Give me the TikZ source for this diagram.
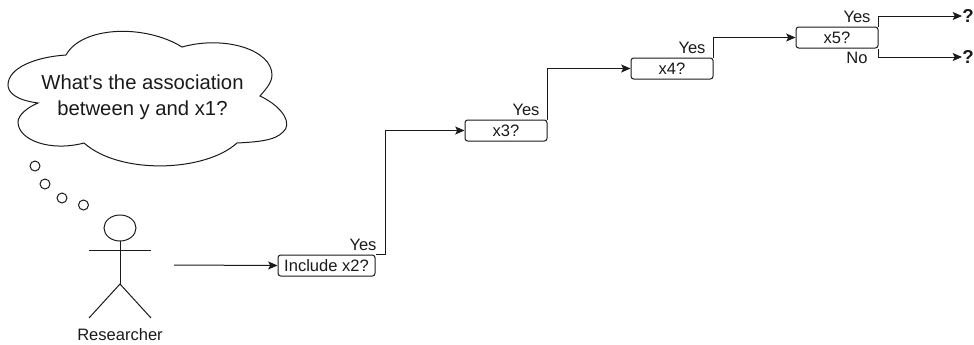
\documentclass[tikz,border=0pt]{standalone}
\usepackage{fontspec}
\newfontfamily\flowfont{Liberation Sans}
\usetikzlibrary{arrows.meta}
\definecolor{flowLine}{HTML}{1A1A1A}
\tikzset{
  flowfig/.style={
    x=0.75pt, y=-0.75pt,
    every node/.append style={font=\flowfont\fontsize{12.4}{14}\selectfont, text=flowLine},
    >={Stealth[length=7pt, width=6pt, inset=1.5pt]},
  },
  askbox/.style={
    draw=flowLine, line width=0.75pt, rounded corners=2pt, fill=white,
    align=center, inner sep=0pt, minimum width=61.5pt, minimum height=15.75pt,
  },
  flow/.style={draw=flowLine, line width=0.75pt, ->},
  figure/.style={draw=flowLine, line width=0.75pt},
  answer/.style={inner sep=0pt},
  endmark/.style={inner sep=0pt, font=\flowfont\bfseries\fontsize{14}{16}\selectfont},
}
\begin{document}
\begin{tikzpicture}[flowfig]
  \useasboundingbox (0,0) rectangle (974,344);
  % thought cloud
  \draw[figure] (66,55) .. controls (82,26) and (145,24) .. (182,47)
    .. controls (225,35) and (272,50) .. (272,75)
    .. controls (272,83) and (265,90) .. (260,96)
    .. controls (285,108) and (292,125) .. (283,132)
    .. controls (275,141) and (255,142) .. (237,143)
    .. controls (205,172) and (120,175) .. (84,143)
    .. controls (50,152) and (18,140) .. (18,122)
    .. controls (18,115) and (28,107) .. (38,103)
    .. controls (15,100) and (8,92) .. (8,85)
    .. controls (8,68) and (35,57) .. (66,55) -- cycle;
  \node[font=\flowfont\fontsize{15.2}{19.5}\selectfont, align=center] (thought) at (142.5,97) {What's the association\\between y and x1?};
  \draw[figure] (35,166) circle (5);
  \draw[figure] (45,184) circle (5);
  \draw[figure] (62,198) circle (5);
  \draw[figure] (83.5,205) circle (5);
  % stick figure
  \draw[figure] (120,228) ellipse (16 and 13);
  \draw[figure] (89,250) -- (151,250);
  \draw[figure] (120,241) -- (120,284);
  \draw[figure] (89,318) -- (120,284) -- (151,318);
  \node (researcher) at (120,335) {Researcher};
  \coordinate (start) at (174,265);
  % questions
  \node[askbox, minimum width=72.75pt] (inctwo) at (326.5,265.5) {Include x2?};
  \node[askbox] (xthree) at (506,130.5) {x3?};
  \node[askbox] (xfour) at (672,68.5) {x4?};
  \node[askbox] (xfive) at (837,37.5) {x5?};
  \node[endmark] (endyes) at (968,16) {?};
  \node[endmark] (endno) at (968,57) {?};
  % connectors
  \draw[flow] (start) -- (inctwo.west);
  \draw[flow] (inctwo.north east) -- ++(10,0) |- (xthree.west);
  \draw[flow] (xthree.north east) |- (xfour.west);
  \draw[flow] (xfour.north east) |- (xfive.west);
  \draw[flow] (xfive.north east) |- (endyes.west);
  \draw[flow] (xfive.south east) |- (endno.west);
  % labels
  \node[answer] (yesinc) at (363,245) {Yes};
  \node[answer] (yesthree) at (526,110) {Yes};
  \node[answer] (yesfour) at (692,48) {Yes};
  \node[answer] (yesfive) at (857,17) {Yes};
  \node[answer] (nofive) at (857,58) {No};
\end{tikzpicture}
\end{document}
